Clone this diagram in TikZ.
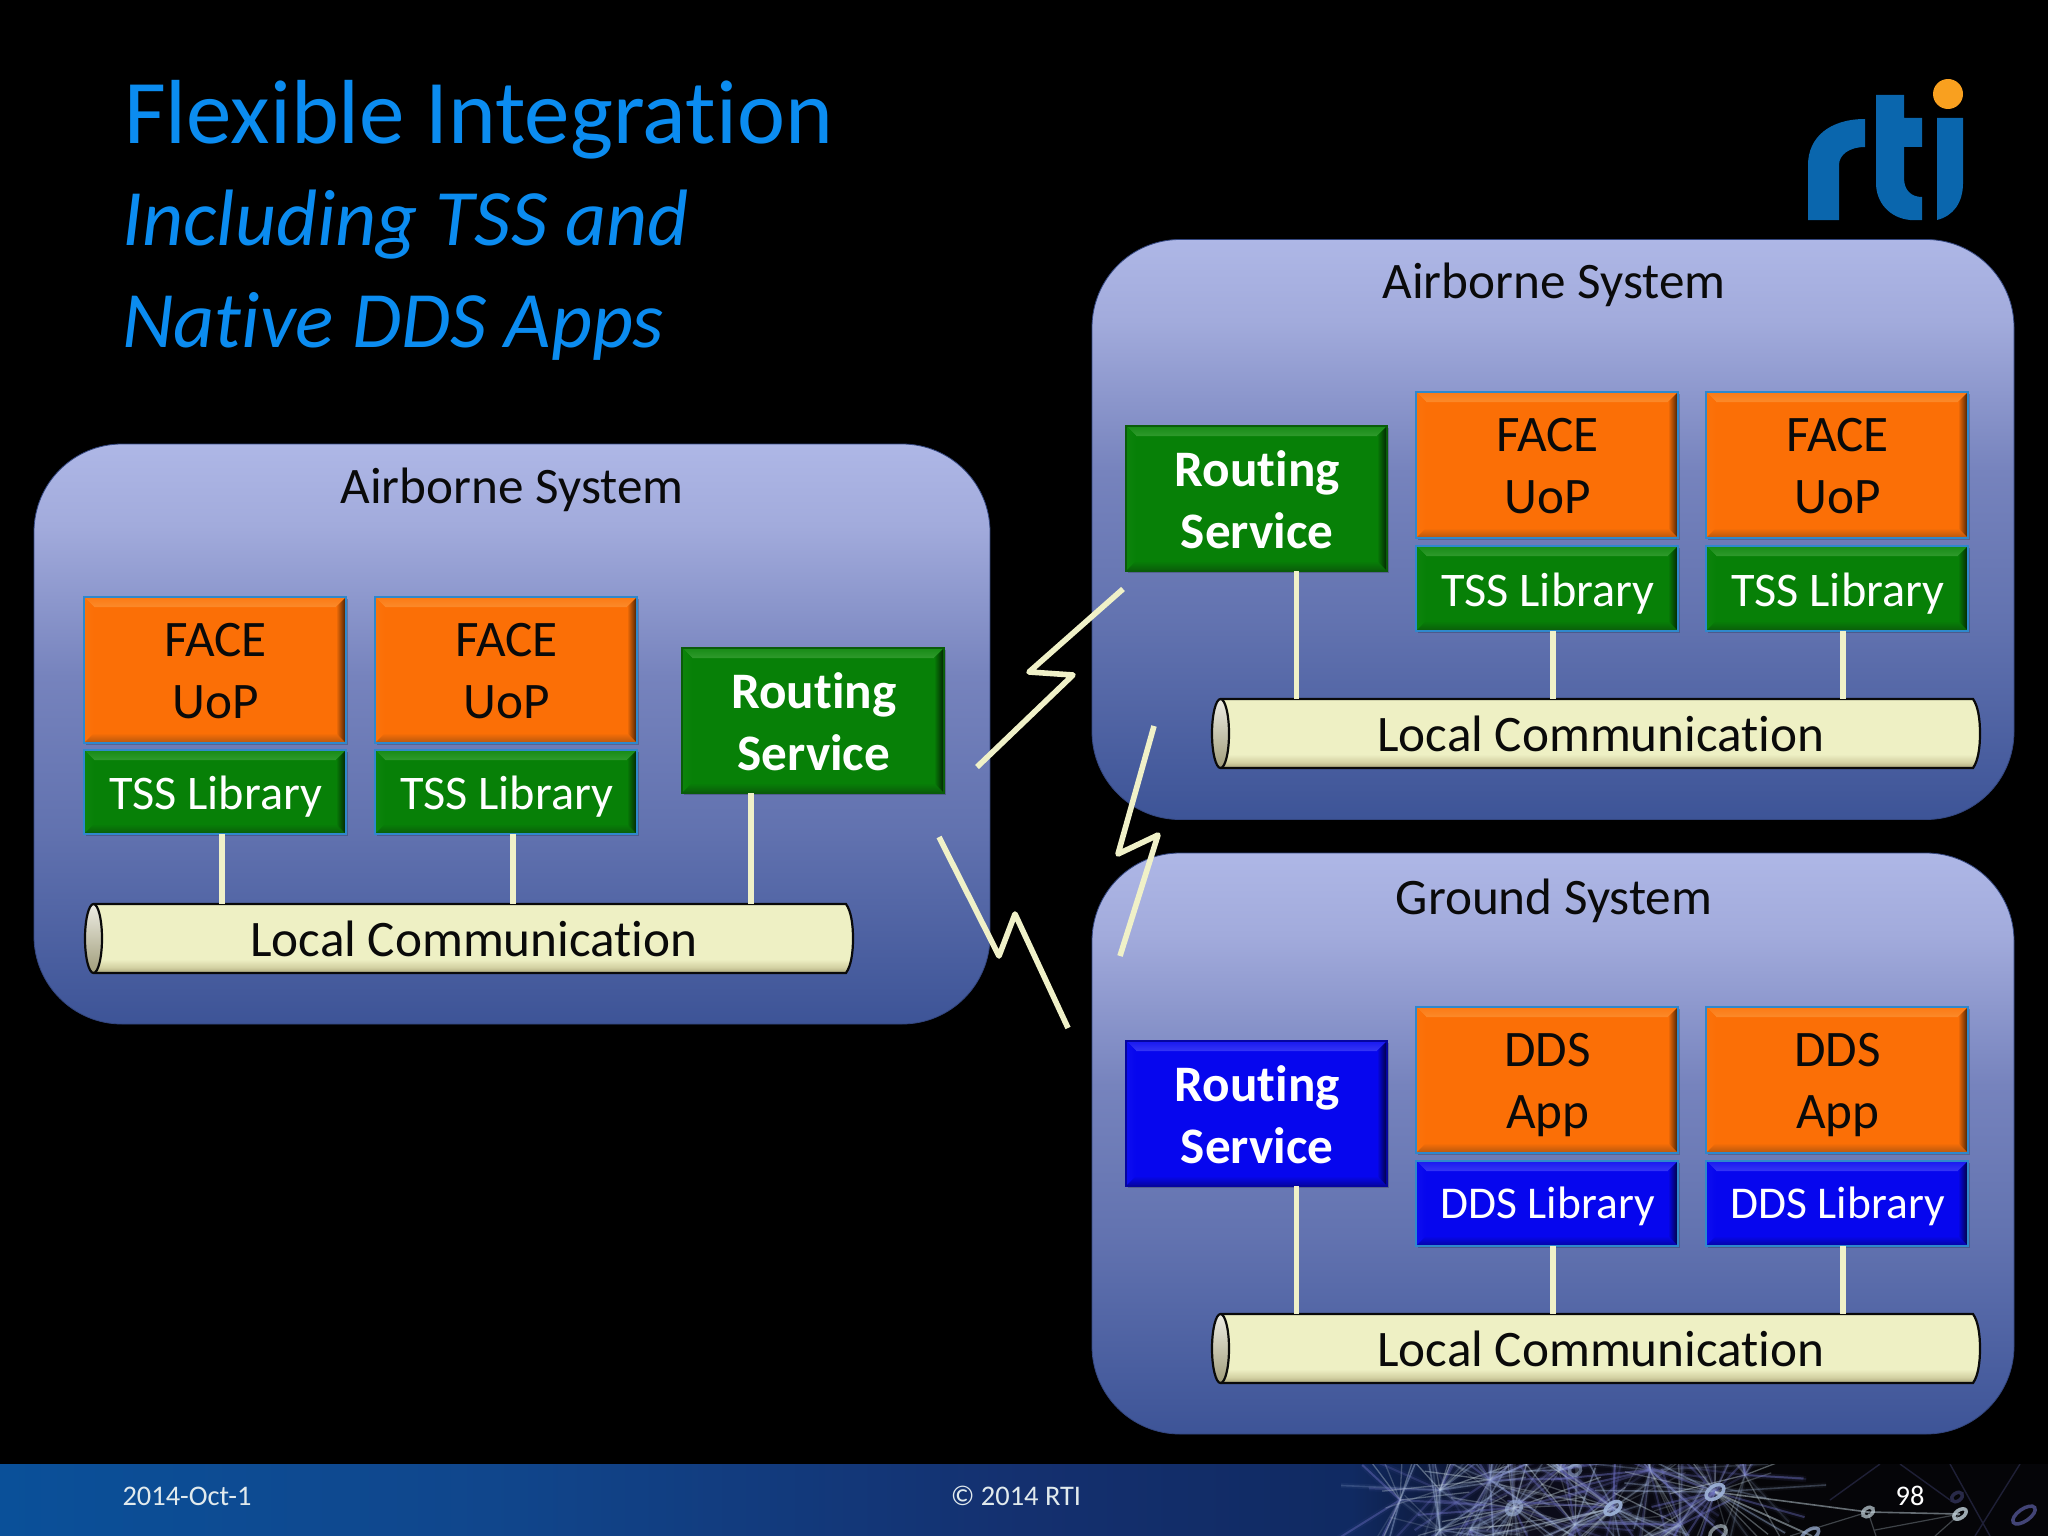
\documentclass[tikz,border=0pt]{standalone}
\usepackage{fontspec}
\setmainfont{Carlito}[Ligatures=NoCommon]
\usetikzlibrary{shadows,calc}
\definecolor{titleblue}{HTML}{0B8CF0}
\definecolor{cream}{HTML}{F0F1C8}
\definecolor{inkc}{HTML}{0A0A0A}
\definecolor{orangeB}{HTML}{FB6F06}
\definecolor{orangeL}{HTML}{FB8A2A}
\definecolor{orangeD}{HTML}{B5560F}
\definecolor{greenB}{HTML}{078007}
\definecolor{greenL}{HTML}{2F9A2C}
\definecolor{greenD}{HTML}{0A5C0A}
\definecolor{blueB}{HTML}{0606EE}
\definecolor{blueL}{HTML}{3535F5}
\definecolor{blueD}{HTML}{0505A0}
\definecolor{edgeblue}{HTML}{2F88CC}
\definecolor{panelTop}{HTML}{AEB7E6}
\definecolor{panelA}{HTML}{A2ABDC}
\definecolor{panelB}{HTML}{7683BD}
\definecolor{panelBot}{HTML}{3D5497}
\definecolor{barTop}{HTML}{EEF0C4}
\definecolor{barBot}{HTML}{A8A478}
\definecolor{barMid}{HTML}{D2D0A2}
\definecolor{logoblue}{HTML}{0A66AD}
\definecolor{logodot}{HTML}{F9A01F}
\definecolor{footA}{HTML}{0A5099}
\definecolor{footB}{HTML}{10468C}
\definecolor{footC}{HTML}{14306F}
\definecolor{footD}{HTML}{102A62}
\definecolor{footE}{HTML}{0C0C1C}
\definecolor{footF}{HTML}{050508}
\definecolor{netA}{HTML}{9FB4DA}
\definecolor{netB}{HTML}{6C6FC0}
\definecolor{netC}{HTML}{C4D4DC}
\pgfdeclareverticalshading{panelshade}{100bp}{color(0bp)=(panelBot); color(25bp)=(panelBot); color(42bp)=(panelB!65!panelBot); color(55bp)=(panelB); color(68bp)=(panelA); color(75bp)=(panelTop); color(100bp)=(panelTop)}
\pgfdeclareverticalshading{barshade}{100bp}{color(0bp)=(barBot); color(25bp)=(barBot); color(29bp)=(barMid); color(35bp)=(barTop); color(100bp)=(barTop)}
\pgfdeclarehorizontalshading{footshade}{100bp}{color(0bp)=(footA); color(25bp)=(footA); color(37bp)=(footB); color(50bp)=(footC); color(58bp)=(footD); color(62bp)=(footE); color(68bp)=(footF); color(100bp)=(footF)}
\newcommand{\nudge}[2]{\hspace*{1.5pt}\raisebox{-#1pt}[\height][\depth]{#2}}
\tikzset{
  x=1pt, y=-1pt,
  panel/.style={rounded corners=88pt, draw=panelBot!85!black, line width=.8pt, shading=panelshade, inner sep=0pt, outer sep=0pt},
  paneltitle/.style={anchor=base, text=inkc, font=\fontsize{51.2}{61}\selectfont},
  bevelbox/.style n args={4}{fill=#1, draw=#2, line width=2pt, inner sep=0pt, outer sep=0pt, align=center,
    general shadow={shadow xshift=1.5pt, shadow yshift=-2pt, fill=black, opacity=.2},
    path picture={
      \coordinate (pnw) at (path picture bounding box.north west);
      \coordinate (pne) at (path picture bounding box.north east);
      \coordinate (psw) at (path picture bounding box.south west);
      \coordinate (pse) at (path picture bounding box.south east);
      \fill[top color=#3!40!#1, bottom color=#3] (pnw) -- (pne) -- ([shift={(-10,10)}]pne) -- ([shift={(10,10)}]pnw) -- cycle;
      \fill[left color=#3!15!#1, right color=#1] (pnw) -- (psw) -- ([shift={(10,-10)}]psw) -- ([shift={(10,10)}]pnw) -- cycle;
      \fill[top color=#1, bottom color=#4] (psw) -- (pse) -- ([shift={(-10,-10)}]pse) -- ([shift={(10,-10)}]psw) -- cycle;
      \fill[left color=#1, right color=#4!35!black] (pne) -- (pse) -- ([shift={(-10,-10)}]pse) -- ([shift={(-10,10)}]pne) -- cycle;
    }},
  orangebox/.style={bevelbox={orangeB}{edgeblue}{orangeL}{orangeD}, text=inkc, font=\fontsize{51.2}{62}\selectfont},
  tssbox/.style={bevelbox={greenB}{edgeblue}{greenL}{greenD}, text=white, font=\fontsize{48.3}{58}\selectfont},
  ddsbox/.style={bevelbox={blueB}{edgeblue}{blueL}{blueD}, text=white, font=\fontsize{45.5}{58}\selectfont},
  greenroute/.style={bevelbox={greenB}{greenD}{greenL}{greenD}, text=white, font=\fontsize{51.2}{62}\selectfont\bfseries},
  blueroute/.style={bevelbox={blueB}{blueD}{blueL}{blueD}, text=white, font=\fontsize{51.2}{62}\selectfont\bfseries},
  commtext/.style={inner sep=0pt, outer sep=0pt, text=inkc, minimum width=768pt, minimum height=69pt, font=\fontsize{51.2}{61}\selectfont},
  wire/.style={cream, line width=5.6pt},
  bolt/.style={cream, line width=5.6pt, line join=round},
  foottext/.style={anchor=base, text=#1, font=\fontsize{28.4}{34}\selectfont},
  foottext/.default=white
}
\newcommand{\bbox}[7]{\node[#2, minimum width={(#5-#3)*1pt}, minimum height={(#6-#4)*1pt}] (#1) at ({(#3+#5)/2},{(#4+#6)/2}) {#7};}
\newcommand{\commbar}[3]{%
  \begin{scope}[shift={(#2,#3)}]
    \path[shading=barshade] (9,0) -- (761,0) .. controls (766,7) and (768,20) .. (768,34.5) .. controls (768,49) and (766,62) .. (761,69) -- (9,69) -- cycle;
    \draw[inkc, line width=2.2pt] (9,0) -- (761,0) .. controls (766,7) and (768,20) .. (768,34.5) .. controls (768,49) and (766,62) .. (761,69) -- (9,69);
    \draw[inkc, line width=2.2pt, top color=white!80!barBot, bottom color=barBot!80!gray] (8.5,34.5) ellipse [x radius=8.5, y radius=34.5];
  \end{scope}
  \node[commtext] (#1) at ({#2+384+5},{#3+34.5}) {Local Communication};}
\begin{document}
\begin{tikzpicture}
\useasboundingbox (0,0) rectangle (2048,1536);
\fill[black] (0,0) rectangle (2048,1536);

% footer
\begin{scope}
  \clip (0,1464) rectangle (2048,1536);
  \path[shading=footshade] (0,1464) rectangle (2048,1536);
  \pgfmathsetseed{4711}
  \foreach \hx/\hy/\n/\len in {1400/1500/14/90, 1440/1490/22/110, 1470/1530/18/110, 1490/1480/30/120, 1514/1508/34/130, 1560/1470/30/110, 1575/1525/24/100, 1613/1508/36/150, 1650/1470/30/120, 1680/1525/24/100, 1715/1492/34/130, 1745/1475/18/90, 1440/1530/16/80} {
    \foreach \j in {1,...,\n} {
      \pgfmathsetmacro{\ang}{rnd*360}
      \pgfmathsetmacro{\ll}{\len*(.45+.55*rnd)}
      \pgfmathsetmacro{\opa}{.15+.3*rnd}
      \pgfmathtruncatemacro{\cc}{int(rnd*3)}
      \ifcase\cc\relax
        \draw[netA, line width=1.6pt, opacity=\opa] (\hx,\hy) -- ++(\ang:\ll);
        \draw[netA, line width=5pt, opacity=.05] (\hx,\hy) -- ++(\ang:\ll);
      \or
        \draw[netB, line width=2pt, opacity=\opa] (\hx,\hy) -- ++(\ang:\ll);
        \draw[netB, line width=6pt, opacity=.06] (\hx,\hy) -- ++(\ang:\ll);
      \or
        \draw[netC, line width=1.3pt, opacity=\opa] (\hx,\hy) -- ++(\ang:\ll);
      \fi
    }
  }
  \draw[netC, line width=1.6pt, opacity=.5] (1715,1492) -- (1868,1512) -- (1960,1514);
  \draw[netC, line width=1.8pt, opacity=.5] (1715,1492) -- (1812,1536);
  \draw[netC, line width=1.2pt, opacity=.3] (1868,1512) -- (1790,1536) (1868,1512) -- (1876,1536) (1960,1514) -- (1935,1536) (1875,1530) -- (1960,1514);
  \draw[netB, line width=1.4pt, opacity=.25] (1900,1464) -- (1950,1500) (1880,1464) -- (1830,1500) (1950,1464) -- (1990,1536) (2020,1464) -- (1975,1536);
  \foreach \rx/\ry/\ra/\rb/\co/\op in {1613/1508/9/5/netA/.9, 1514/1508/8/6/netA/.6, 1715/1492/10/6/netA/.9, 1868/1512/6/4/netC/.7, 1960/1514/7/4/netC/.8, 2024/1515/13/6/netB/.6, 1575/1470/6/5/netA/.5, 1957/1497/6/4/netB/.35, 1718/1533/9/6/netC/.6, 1810/1535/10/5/netA/.7} {
    \draw[\co, line width=3.5pt, opacity=\op, rotate around={35:(\rx,\ry)}] (\rx,\ry) ellipse [x radius=\ra, y radius=\rb];
  }
\end{scope}
\node[foottext={netC!50!white}] (fdate) at (187,1505.5) {2014-Oct-1};
\node[foottext={netC!50!white}] (fcopy) at (1016,1505.5) {© 2014 RTI};
\node[foottext=white] (fpage) at (1910,1505.5) {98};

% titles
\node[anchor=base west, inner sep=0pt, text=titleblue, font=\fontsize{91}{100}\selectfont] (t1) at (124,144) {Flexible Integration};
\node[anchor=base west, inner sep=0pt, text=titleblue, font=\fontsize{80}{90}\selectfont\itshape] (t2) at (122,245) {Including TSS and};
\node[anchor=base west, inner sep=0pt, text=titleblue, font=\fontsize{80}{90}\selectfont\itshape] (t3) at (122,347) {Native DDS Apps};

% logo
\fill[logoblue] (1808,220) -- (1839,220) -- (1839,165) .. controls (1839,155) and (1849,147) .. (1865,147) -- (1865,119) .. controls (1830,119) and (1808,137) .. (1808,165) -- cycle;
\fill[logoblue] (1876,95) -- (1904,95) -- (1904,118) -- (1922,118) -- (1922,147) -- (1904,147) -- (1904,178) .. controls (1904,190) and (1911,197) .. (1922,197) -- (1922,220) -- (1910,220) .. controls (1890,218) and (1876,203) .. (1876,183) -- cycle;
\fill[logoblue] (1937,118) -- (1963,118) -- (1963,183) .. controls (1963,203) and (1953,216) .. (1937,220) -- cycle;
\fill[logodot] (1948,94) circle [radius=15];

% panels
\node[panel, minimum width=956pt, minimum height=580pt] (airL) at (512,734) {};
\node[panel, minimum width=922pt, minimum height=580pt] (airR) at (1553,529.5) {};
\node[panel, minimum width=922pt, minimum height=581pt] (gnd) at (1553,1143.5) {};
\node[paneltitle] (airLt) at (512,503) {Airborne System};
\node[paneltitle] (airRt) at (1554,298) {Airborne System};
\node[paneltitle] (gndt) at (1554,914.5) {Ground System};

% left system
\bbox{faceA}{orangebox}{84}{597}{346}{743}{\nudge{1.5}{FACE}\\\nudge{1.5}{UoP}}
\bbox{tssA}{tssbox}{84}{750}{346}{834}{\nudge{5}{TSS Library}}
\bbox{faceB}{orangebox}{375}{597}{637}{743}{\nudge{1.5}{FACE}\\\nudge{1.5}{UoP}}
\bbox{tssB}{tssbox}{375}{750}{637}{834}{\nudge{5}{TSS Library}}
\bbox{rtL}{greenroute}{682}{648}{944}{793}{\nudge{1.5}{Routing}\\\nudge{1.5}{Service}}
\commbar{lcL}{85}{904}
\draw[wire] ([xshift=7pt]tssA.south) -- ([xshift=7pt]tssA.south |- lcL.north);
\draw[wire] ([xshift=7pt]tssB.south) -- ([xshift=7pt]tssB.south |- lcL.north);
\draw[wire] ([xshift=-62pt]rtL.south) -- ([xshift=-62pt]rtL.south |- lcL.north);

% right airborne system
\bbox{rtR}{greenroute}{1126}{426}{1387}{571}{\nudge{1.5}{Routing}\\\nudge{1.5}{Service}}
\bbox{faceC}{orangebox}{1416}{392}{1678}{538}{\nudge{1.5}{FACE}\\\nudge{1.5}{UoP}}
\bbox{tssC}{tssbox}{1416}{546}{1678}{631}{\nudge{5}{TSS Library}}
\bbox{faceD}{orangebox}{1706}{392}{1968}{538}{\nudge{1.5}{FACE}\\\nudge{1.5}{UoP}}
\bbox{tssD}{tssbox}{1706}{546}{1968}{631}{\nudge{5}{TSS Library}}
\commbar{lcR}{1212}{699}
\draw[wire] ([xshift=40pt]rtR.south) -- ([xshift=40pt]rtR.south |- lcR.north);
\draw[wire] ([xshift=6pt]tssC.south) -- ([xshift=6pt]tssC.south |- lcR.north);
\draw[wire] ([xshift=6pt]tssD.south) -- ([xshift=6pt]tssD.south |- lcR.north);

% ground system
\bbox{rtG}{blueroute}{1126}{1041}{1387}{1186}{\nudge{1.5}{Routing}\\\nudge{1.5}{Service}}
\bbox{appA}{orangebox}{1416}{1007}{1678}{1153}{\nudge{5.5}{DDS}\\\nudge{5.5}{App}}
\bbox{ddsA}{ddsbox}{1416}{1161}{1678}{1246}{\nudge{3}{DDS Library}}
\bbox{appB}{orangebox}{1706}{1007}{1968}{1153}{\nudge{5.5}{DDS}\\\nudge{5.5}{App}}
\bbox{ddsB}{ddsbox}{1706}{1161}{1968}{1246}{\nudge{3}{DDS Library}}
\commbar{lcG}{1212}{1314}
\draw[wire] ([xshift=40pt]rtG.south) -- ([xshift=40pt]rtG.south |- lcG.north);
\draw[wire] ([xshift=6pt]ddsA.south) -- ([xshift=6pt]ddsA.south |- lcG.north);
\draw[wire] ([xshift=6pt]ddsB.south) -- ([xshift=6pt]ddsB.south |- lcG.north);

% lightning links
\coordinate (b1a) at (1123,589); \coordinate (b1b) at (1029,672); \coordinate (b1c) at (1073,675); \coordinate (b1d) at (977,767);
\coordinate (b2a) at (1154,726); \coordinate (b2b) at (1118,854); \coordinate (b2c) at (1158,835); \coordinate (b2d) at (1120,956);
\coordinate (b3a) at (939,837); \coordinate (b3b) at (999,956); \coordinate (b3c) at (1015,914); \coordinate (b3d) at (1068,1028);
\draw[bolt] (b1a) -- (b1b) -- (b1c) -- (b1d);
\draw[bolt] (b2a) -- (b2b) -- (b2c) -- (b2d);
\draw[bolt] (b3a) -- (b3b) -- (b3c) -- (b3d);
\end{tikzpicture}
\end{document}
